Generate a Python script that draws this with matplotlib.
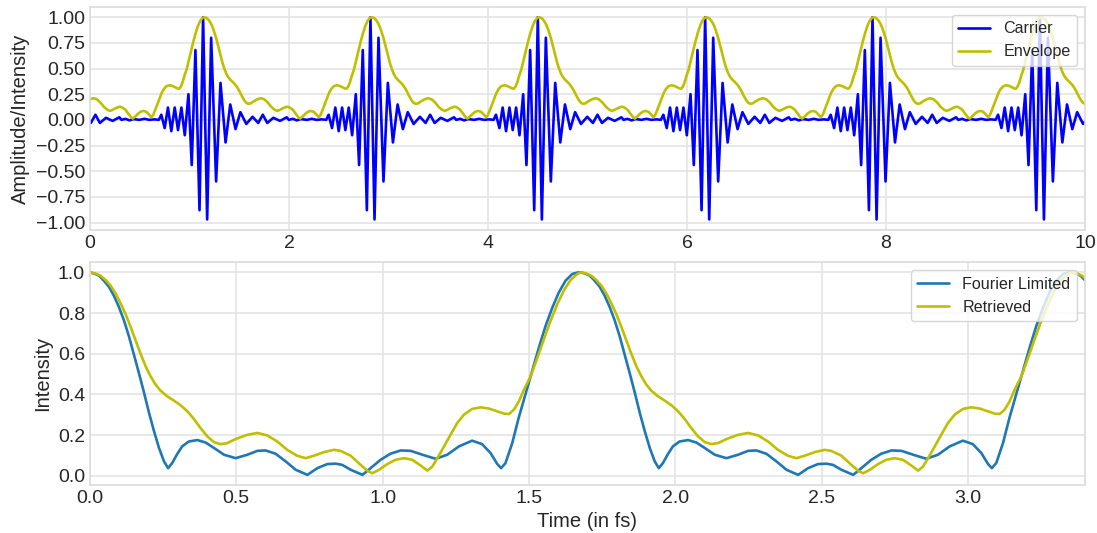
import matplotlib as mpl

mpl.use("Agg")

import matplotlib.pyplot as plt
import numpy as np
from matplotlib.ticker import MultipleLocator

# carrier extrema of one pulse (time offset from the main peak)
CARRIER_OFFSET = [
    -0.820, -0.780, -0.740, -0.700, -0.640, -0.590, -0.540, -0.490, -0.445,
    -0.420, -0.386, -0.353, -0.319, -0.285, -0.252, -0.218, -0.184, -0.147,
    -0.114, -0.077, -0.036, 0.000, 0.041, 0.081, 0.131, 0.175, 0.226, 0.273,
    0.326, 0.375, 0.434, 0.497, 0.554, 0.600, 0.645, 0.706, 0.773, 0.840,
]
CARRIER_VALUE = [
    0.000, 0.010, -0.005, 0.008, 0.000, 0.010, 0.000, 0.005, 0.000,
    0.050, -0.080, 0.120, -0.110, 0.120, -0.100, 0.120, -0.150, 0.250,
    -0.440, 0.680, -0.880, 1.000, -0.970, 0.800, -0.600, 0.360, -0.220, 0.150,
    -0.090, 0.075, -0.040, 0.030, -0.030, 0.050, -0.030, 0.020, -0.010, 0.025,
]
# times of the carrier maxima in the top panel (first one lies left of the view)
PULSE_PEAKS = [-0.545, 1.137, 2.819, 4.501, 6.183, 7.865, 9.547]
ENVELOPE_SHIFT = 0.01

# one period of the intensity profiles (bottom panel), from one peak to the next
FL_T = [
    0.000, 0.014, 0.031, 0.048, 0.065, 0.082, 0.099, 0.116, 0.133, 0.150,
    0.167, 0.185, 0.202, 0.219, 0.236, 0.253, 0.267, 0.281, 0.298, 0.315,
    0.338, 0.367, 0.395, 0.424, 0.458, 0.498, 0.538, 0.572, 0.600, 0.634,
    0.669, 0.703, 0.743, 0.777, 0.811, 0.840, 0.862, 0.891, 0.931, 0.959,
    0.993, 1.027, 1.062, 1.096, 1.136, 1.181, 1.221, 1.261, 1.306, 1.340,
    1.369, 1.392, 1.405, 1.420, 1.443, 1.465, 1.488, 1.511, 1.534, 1.557,
    1.580, 1.602, 1.625, 1.648, 1.665,
]
FOURIER_LIMITED = [
    1.000, 0.995, 0.984, 0.959, 0.929, 0.885, 0.830, 0.765, 0.687, 0.597,
    0.507, 0.408, 0.309, 0.219, 0.137, 0.071, 0.038, 0.063, 0.107, 0.145,
    0.169, 0.176, 0.164, 0.137, 0.104, 0.087, 0.104, 0.123, 0.125, 0.109,
    0.071, 0.030, 0.005, 0.038, 0.058, 0.060, 0.054, 0.030, 0.005, 0.038,
    0.079, 0.109, 0.125, 0.123, 0.104, 0.084, 0.104, 0.145, 0.173, 0.156,
    0.112, 0.058, 0.038, 0.063, 0.161, 0.285, 0.400, 0.515, 0.630, 0.737,
    0.827, 0.901, 0.959, 0.992, 0.999,
]
RETRIEVED_T = [
    0.000, 0.019, 0.036, 0.054, 0.071, 0.088, 0.105, 0.122, 0.139, 0.156,
    0.173, 0.190, 0.207, 0.224, 0.241, 0.264, 0.287, 0.310, 0.333, 0.355,
    0.378, 0.401, 0.424, 0.446, 0.469, 0.498, 0.538, 0.572, 0.606, 0.640,
    0.674, 0.708, 0.737, 0.765, 0.800, 0.834, 0.856, 0.891, 0.925, 0.948,
    0.965, 0.988, 1.016, 1.044, 1.073, 1.101, 1.130, 1.153, 1.170, 1.187,
    1.210, 1.232, 1.255, 1.278, 1.306, 1.335, 1.363, 1.392, 1.415, 1.432,
    1.449, 1.466, 1.483, 1.506, 1.529, 1.551, 1.574, 1.597, 1.620, 1.642,
    1.665,
]
RETRIEVED = [
    1.000, 0.995, 0.984, 0.962, 0.934, 0.896, 0.847, 0.794, 0.732, 0.666,
    0.600, 0.539, 0.490, 0.449, 0.419, 0.391, 0.370, 0.347, 0.317, 0.280,
    0.235, 0.194, 0.166, 0.156, 0.161, 0.181, 0.202, 0.211, 0.199, 0.169,
    0.128, 0.099, 0.087, 0.099, 0.117, 0.128, 0.123, 0.099, 0.054, 0.025,
    0.013, 0.030, 0.058, 0.079, 0.087, 0.079, 0.051, 0.026, 0.046, 0.087,
    0.145, 0.202, 0.260, 0.301, 0.329, 0.337, 0.331, 0.317, 0.306, 0.304,
    0.326, 0.367, 0.424, 0.490, 0.581, 0.671, 0.762, 0.844, 0.913, 0.962,
    0.992,
]
BOTTOM_PEAKS = [0.0, 1.677, 3.354]


def tile(starts, t, v):
    xs = np.concatenate([s + np.asarray(t) for s in starts])
    ys = np.concatenate([np.asarray(v) for _ in starts])
    return xs, ys


plt.style.use("seaborn-v0_8-whitegrid")
plt.rcParams.update(
    {
        "font.family": ["Liberation Sans", "DejaVu Sans"],
        "text.color": "#262626",
        "axes.labelcolor": "#262626",
        "xtick.color": "#262626",
        "ytick.color": "#262626",
        "grid.color": "#e4e4e4",
        "grid.linewidth": 1.2,
        "axes.edgecolor": "#dcdcdc",
        "axes.linewidth": 1.2,
    }
)

fig, (ax1, ax2) = plt.subplots(2, 1, figsize=(10.97, 5.33), dpi=100)
fig.subplots_adjust(left=0.082, right=0.989, top=0.987, bottom=0.09, hspace=0.146)

cx, cy = tile(PULSE_PEAKS, CARRIER_OFFSET, CARRIER_VALUE)
ex, ey = tile([p + ENVELOPE_SHIFT for p in PULSE_PEAKS], RETRIEVED_T, RETRIEVED)
ax1.plot(cx, cy, color="b", lw=1.9, label="Carrier")
ax1.plot(ex, ey, color="y", lw=1.9, label="Envelope")
ax1.set_xlim(0, 10)
ax1.set_ylim(-1.07, 1.10)
ax1.yaxis.set_major_locator(MultipleLocator(0.25))
ax1.set_ylabel("Amplitude/Intensity", fontsize=14.5)
ax1.tick_params(labelsize=14)
ax1.legend(loc="upper right", frameon=True, fontsize=11.6)

fx, fy = tile(BOTTOM_PEAKS, FL_T, FOURIER_LIMITED)
rx, ry = tile(BOTTOM_PEAKS, RETRIEVED_T, RETRIEVED)
ax2.plot(fx, fy, color="tab:blue", lw=1.9, label="Fourier Limited")
ax2.plot(rx, ry, color="y", lw=1.9, label="Retrieved")
ax2.set_xlim(0, 3.4)
ax2.set_ylim(-0.045, 1.05)
ax2.yaxis.set_major_locator(MultipleLocator(0.2))
ax2.set_xlabel("Time (in fs)", fontsize=14.5)
ax2.set_ylabel("Intensity", fontsize=14.5)
ax2.tick_params(labelsize=14)
ax2.legend(loc="upper right", frameon=True, fontsize=11.6)

fig.savefig("out.png", dpi=100)
